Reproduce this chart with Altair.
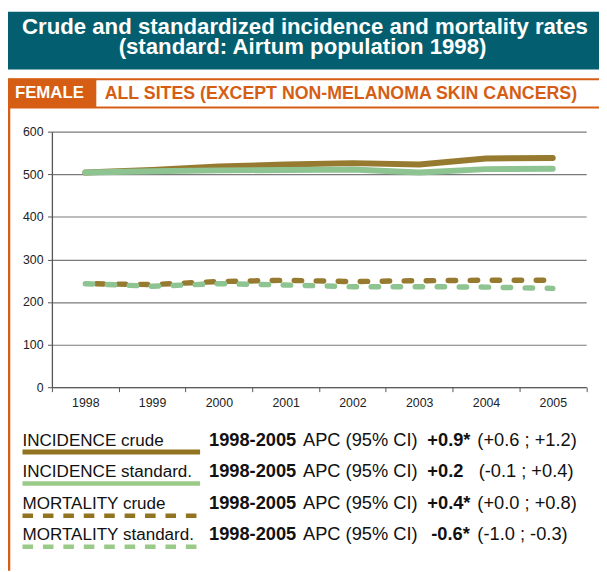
import altair as alt
import pandas as pd

# ---------------- data ----------------
years = ["1998", "1999", "2000", "2001", "2002", "2003", "2004", "2005"]
incidence_crude = [504, 510, 518, 523, 526, 523, 537, 538]
incidence_std = [504, 507, 509, 510, 511, 504, 512, 513]
mortality_crude = [243, 241, 248, 251, 248, 250, 251, 251]
mortality_std = [243, 237, 243, 240, 236, 236, 235, 232]

series_keys = ["inc_crude", "inc_std", "mort_crude", "mort_std"]
legend_labels = ["INCIDENCE crude", "INCIDENCE standard.", "MORTALITY crude", "MORTALITY standard."]
period_label = "1998-2005"
apc_label = "APC (95% CI)"
apc_values = ["+0.9*", "+0.2", "+0.4*", "-0.6*"]
ci_values = ["(+0.6 ; +1.2)", "(-0.1 ; +0.4)", "(+0.0 ; +0.8)", "(-1.0 ; -0.3)"]
y_ticks = [0, 100, 200, 300, 400, 500, 600]
title_lines = ["Crude and standardized incidence and mortality rates",
               "(standard: Airtum population 1998)"]
sex_label = "FEMALE"
site_label = "ALL SITES (EXCEPT NON-MELANOMA SKIN CANCERS)"

rows = []
for key, vals in zip(series_keys, [incidence_crude, incidence_std, mortality_crude, mortality_std]):
    for y, v in zip(years, vals):
        rows.append({"series": key, "year": y, "rate": v})
df = pd.DataFrame(rows)

# ---------------- style ----------------
FONT = "Liberation Sans"
TEAL = "#035F6F"
ORANGE = "#D55E14"
BROWN = "#967A30"
GREEN = "#8DC492"
BROWN_LEG = "#927420"
GREEN_LEG = "#9ACA88"
TXT = "#111111"

W, H = 541.5, 259
one = alt.Data(values=[{"k": 1}])


def rect(x0, x1, y0, y1, **kw):
    return alt.Chart(one).mark_rect(**kw).encode(
        x=alt.value(x0), x2=alt.value(x1), y=alt.value(y0), y2=alt.value(y1))


def text(txt, x, y, size, color=TXT, weight="normal", align="left"):
    return alt.Chart(one).mark_text(
        font=FONT, fontSize=size, fontWeight=weight, color=color,
        align=align, baseline="alphabetic").encode(
        x=alt.value(x), y=alt.value(y), text=alt.value(txt))


def hrule(x0, x1, y, color, width, dash=None):
    kw = dict(color=color, strokeWidth=width, strokeCap="butt")
    if dash:
        kw["strokeDash"] = dash
    return alt.Chart(one).mark_rule(**kw).encode(
        x=alt.value(x0), x2=alt.value(x1), y=alt.value(y))


layers = []
# header
layers.append(rect(-44.5, 554.5, -121.5, -63, color=TEAL))
layers.append(text(title_lines[0], 256.5, -98.8, 22.5, color="white", weight="bold", align="center"))
layers.append(text(title_lines[1], 254, -79, 22.5, color="white", weight="bold", align="center"))
layers.append(rect(-44.5, 560, -53, -24.5, fill="white", stroke=ORANGE, strokeWidth=2))
layers.append(rect(-44.5, 45, -53.5, -24, color=ORANGE))
layers.append(text(sex_label, -37.5, -34, 17, color="white", weight="bold"))
layers.append(text(site_label, 53.5, -33, 18, color=ORANGE, weight="bold"))
layers.append(alt.Chart(one).mark_rule(color=ORANGE, strokeWidth=2.6).encode(
    x=alt.value(-43.5), y=alt.value(-24.5), y2=alt.value(445)))

# chart lines
x_enc = alt.X("year:O", bandPosition=0.5, sort=years,
              scale=alt.Scale(type="band", paddingInner=0, paddingOuter=0),
              axis=alt.Axis(title=None, labelAngle=0, tickBand="extent", grid=False,
                            domainColor="#555555", tickColor="#555555", tickSize=4.5,
                            labelPadding=5.5, labelFontSize=12.5, labelColor="#222222",
                            labelFont=FONT))
y_enc = alt.Y("rate:Q", scale=alt.Scale(domain=[0, 600], nice=False),
              axis=alt.Axis(title=None, values=y_ticks, grid=True, gridColor="#7a7a7a",
                            gridWidth=1.2, domainColor="#555555", domainWidth=1.3,
                            tickColor="#555555", tickSize=4.5, labelPadding=4.5,
                            labelFontSize=12.5, labelColor="#222222", labelFont=FONT))

line_styles = {
    "inc_crude": dict(color=BROWN, strokeWidth=6),
    "inc_std": dict(color=GREEN, strokeWidth=6),
    "mort_crude": dict(color=BROWN, strokeWidth=5.5, strokeDash=[7.5, 14.8], strokeDashOffset=11.15),
    "mort_std": dict(color=GREEN, strokeWidth=5.5, strokeDash=[7.5, 14.8]),
}
for key in series_keys:
    layers.append(
        alt.Chart(df).transform_filter(alt.datum.series == key)
        .mark_line(strokeCap="round", strokeJoin="round", **line_styles[key])
        .encode(x=x_enc, y=y_enc)
    )

# legend block
leg_colors = [BROWN_LEG, GREEN_LEG, BROWN_LEG, GREEN_LEG]
leg_dash = [None, None, [10.7, 10], [10.7, 10]]
leg_line_y = [324.7, 356.7, 389.3, 420.8]
leg_line_w = [5, 4.5, 4.5, 4.5]
text_y = [318.5, 350, 382, 414]
apc_x = [380.5, 380.5, 380.5, 384.5]
ci_x = [431.2, 432.5, 431.2, 431.2]
for i in range(4):
    layers.append(hrule(-29.8, 150.2, leg_line_y[i], leg_colors[i], leg_line_w[i], leg_dash[i]))
    layers.append(text(legend_labels[i], -29.8, text_y[i], 17.3))
    layers.append(text(period_label, 159.2, text_y[i], 18.5, weight="bold"))
    layers.append(text(apc_label, 254.5, text_y[i], 18.5))
    layers.append(text(apc_values[i], apc_x[i], text_y[i], 18.5, weight="bold"))
    layers.append(text(ci_values[i], ci_x[i], text_y[i], 18.5))

chart = alt.layer(*layers).properties(
    width=W, height=H,
    autosize=alt.AutoSizeParams(type="none"),
    padding={"left": 44.5, "top": 121.5, "right": 13, "bottom": 183.5},
    background="white",
).configure_view(stroke=None)

chart.save("out.html", embed_options={"renderer": "svg", "actions": False})
